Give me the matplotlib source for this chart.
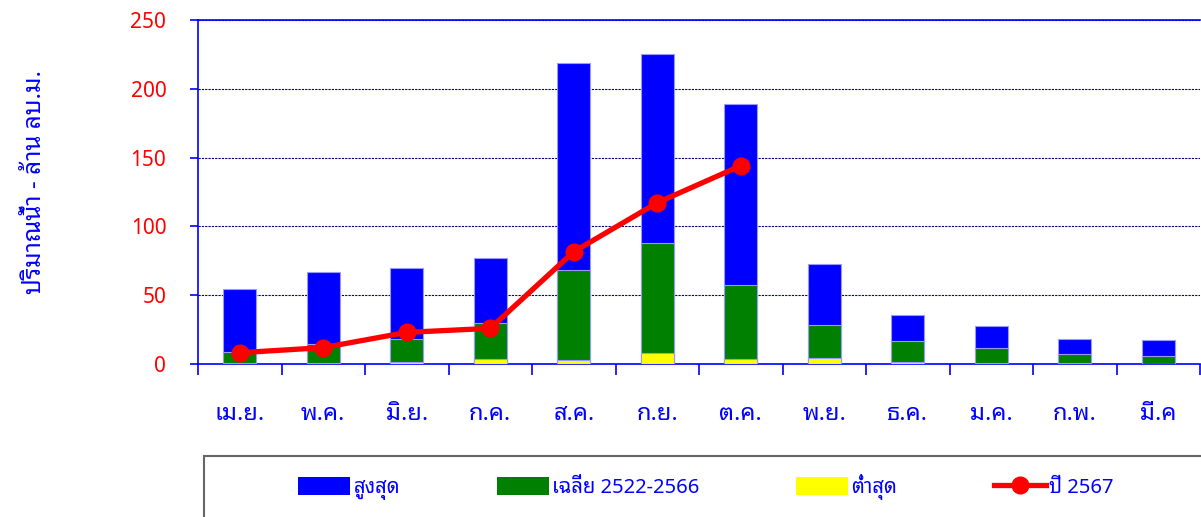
import matplotlib
matplotlib.use("Agg")
import matplotlib.pyplot as plt
from matplotlib.patches import Rectangle
import numpy as np

THAI = ["Noto Sans Thai Looped", "DejaVu Sans"]
plt.rcParams['font.family'] = THAI

# monthly inflow, million m3 (water year Apr - Mar)
months = ["เม.ย.", "พ.ค.", "มิ.ย.", "ก.ค.", "ส.ค.", "ก.ย.", "ต.ค.", "พ.ย.", "ธ.ค.", "ม.ค.", "ก.พ.", "มี.ค"]
max_vals = [54.5, 67.0, 70.0, 77.0, 219.0, 225.0, 189.0, 72.7, 35.6, 27.6, 18.0, 17.4]
avg_vals = [9.0, 14.8, 18.0, 29.6, 68.3, 87.7, 57.4, 28.3, 16.7, 11.6, 7.3, 5.8]
min_vals = [0.5, 0.7, 1.5, 3.6, 2.9, 7.7, 3.4, 4.1, 1.5, 0.5, 0.5, 0.3]
year_vals = [8.2, 11.9, 23.0, 25.9, 81.6, 117.2, 144.1]  # 2567 so far

y_ticks = [0, 50, 100, 150, 200, 250]
ylabel = "ปริมาณน้ำ - ล้าน ลบ.ม."
legend_labels = ["สูงสุด", "เฉลี่ย 2522-2566", "ต่ำสุด", "ปี 2567"]

W, H = 1201, 517
fig = plt.figure(figsize=(W / 100, H / 100), dpi=100)
ax = fig.add_axes([198 / W, 153 / H, 1002 / W, 344 / H])

x = np.arange(len(months))
w = 0.4
edge = dict(edgecolor="#9999ff", linewidth=0.8)
b1 = ax.bar(x, max_vals, w, color="#0000ff", zorder=2, **edge)
b2 = ax.bar(x, avg_vals, w, color="#008000", zorder=3, **edge)
b3 = ax.bar(x, min_vals, w, color="#ffff00", zorder=4, **edge)
ln, = ax.plot(x[:len(year_vals)], year_vals, color="#ff0000", lw=3.8,
              marker="o", markersize=12, zorder=5)

ax.set_xlim(-0.5, len(months) - 0.5)
ax.set_ylim(0, 250)
ax.set_yticks(y_ticks)
ax.tick_params(axis="y", colors="#0000ff", labelcolor="#ff0000", labelsize=15,
               length=5.8, width=1.2, pad=17)

# month ticks on the boundaries, labels in the middle
ax.set_xticks(np.arange(-0.5, len(months), 1.0))
ax.set_xticklabels([])
ax.tick_params(axis="x", which="major", colors="#0000ff", length=8, width=1.2, direction="out")
ax.set_xticks(x, minor=True)
ax.set_xticklabels(months, minor=True)
ax.tick_params(axis="x", which="minor", length=0, labelsize=17, labelcolor="#0000ff", pad=27)

ax.yaxis.grid(True, color="#000080", linestyle=(0, (2, 1)), linewidth=0.8, zorder=1)
ax.set_axisbelow(True)
for s in ["left", "bottom", "top"]:
    ax.spines[s].set_color("#0000ff")
    ax.spines[s].set_linewidth(1.2)
ax.spines["right"].set_visible(False)

ax.set_ylabel(ylabel, color="#0000ff", fontsize=17.5, labelpad=0)
ax.yaxis.set_label_coords(-0.151, 0.53)

# legend box runs off the right and bottom edges
fig.patches.append(Rectangle((204 / W, -0.05), 1.0, 0.05 + 61 / H, transform=fig.transFigure,
                             facecolor="none", edgecolor="#666666", linewidth=1.5))
leg = fig.legend([b1, b2, b3, ln], legend_labels, ncol=4,
                 loc="center left", bbox_to_anchor=(298 / W, 30 / H),
                 fontsize=14.5, handlelength=2.6, handleheight=0.95, handletextpad=0.15,
                 columnspacing=4.8, borderpad=0, borderaxespad=0, frameon=False)
for t in leg.get_texts():
    t.set_color("#0000ff")
for h in leg.legend_handles[:3]:
    h.set_edgecolor("none")

fig.savefig("out.png")
